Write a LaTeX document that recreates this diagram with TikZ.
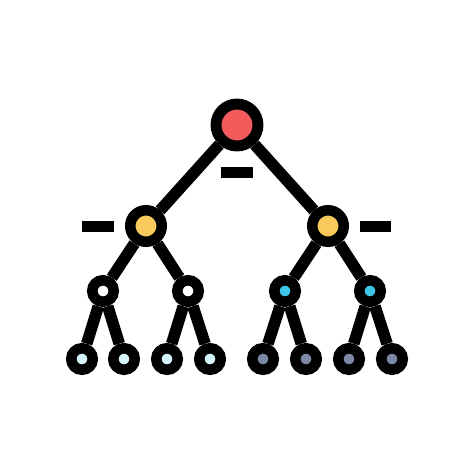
\documentclass[tikz,border=0pt]{standalone}
\definecolor{rootred}{HTML}{F25A5C}
\definecolor{midyellow}{HTML}{F7CA5B}
\definecolor{nodecyan}{HTML}{3CC6E8}
\definecolor{leafcyan}{HTML}{D5F3FA}
\definecolor{leafslate}{HTML}{7B89A6}
\tikzset{
  knot/.style={circle, draw=black, line width=6pt, inner sep=0pt, minimum size=0.43cm},
  bigknot/.style={knot, minimum size=0.63cm},
  rootknot/.style={knot, line width=6.2pt, minimum size=0.84cm},
  bar/.style={fill=black, inner sep=0pt, minimum width=0.64cm, minimum height=0.22cm},
  link/.style={line width=6.6pt}
}
\begin{document}
\begin{tikzpicture}[x=0.02cm, y=-0.02cm]
      \useasboundingbox (0,0) rectangle (474,474);
      % Define nodes
      \node[rootknot, fill=rootred] (root) at (237,125) {};
      \node[bigknot, fill=midyellow] (ya) at (146,226) {};
      \node[bigknot, fill=midyellow] (yb) at (328,226) {};
      \node[knot, fill=white]    (wa) at (103,291) {};
      \node[knot, fill=white]    (wb) at (188,291) {};
      \node[knot, fill=nodecyan] (ca) at (285,291) {};
      \node[knot, fill=nodecyan] (cb) at (370,291) {};
      \node[knot, fill=leafcyan]  (l1) at (82,359) {};
      \node[knot, fill=leafcyan]  (l2) at (124,359) {};
      \node[knot, fill=leafcyan]  (l3) at (167,359) {};
      \node[knot, fill=leafcyan]  (l4) at (210,359) {};
      \node[knot, fill=leafslate] (l5) at (263,359) {};
      \node[knot, fill=leafslate] (l6) at (306,359) {};
      \node[knot, fill=leafslate] (l7) at (349,359) {};
      \node[knot, fill=leafslate] (l8) at (392,359) {};
      \node[bar] (bartop) at (237,172.5) {};
      \node[bar] (barleft) at (98,226.5) {};
      \node[bar] (barright) at (375.5,226.5) {};
      % Connect nodes
      \draw[link] (root) -- (ya);
      \draw[link] (root) -- (yb);
      \draw[link] (ya) -- (wa);
      \draw[link] (ya) -- (wb);
      \draw[link] (yb) -- (ca);
      \draw[link] (yb) -- (cb);
      \draw[link] (wa) -- (l1);
      \draw[link] (wa) -- (l2);
      \draw[link] (wb) -- (l3);
      \draw[link] (wb) -- (l4);
      \draw[link] (ca) -- (l5);
      \draw[link] (ca) -- (l6);
      \draw[link] (cb) -- (l7);
      \draw[link] (cb) -- (l8);
    \end{tikzpicture}
\end{document}
